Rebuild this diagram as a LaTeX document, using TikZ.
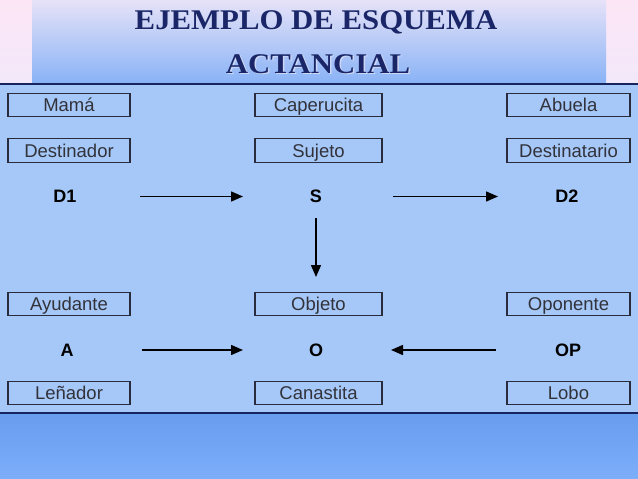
\documentclass[tikz,border=0pt]{standalone}
\usepackage{fontspec}
\setmainfont{Liberation Sans}
\newfontfamily\titlefont{Liberation Serif}
\usetikzlibrary{arrows.meta}
\definecolor{sidetop}{RGB}{252,230,246}
\definecolor{sidebot}{RGB}{242,232,250}
\definecolor{bandtop}{RGB}{230,226,248}
\definecolor{bandbot}{RGB}{136,178,246}
\definecolor{panel}{RGB}{166,200,248}
\definecolor{rule}{RGB}{22,36,96}
\definecolor{foottop}{RGB}{104,156,238}
\definecolor{footbot}{RGB}{124,174,250}
\definecolor{boxline}{RGB}{40,44,60}
\definecolor{boxtext}{RGB}{50,50,58}
\definecolor{titlecol}{RGB}{26,38,104}
\definecolor{titleshadow}{RGB}{205,215,245}
\begin{document}
\begin{tikzpicture}[x=1pt,y=-1pt,
  rolebox/.style={draw=boxline, line width=1.3pt, minimum width=123pt,
    minimum height=23.5pt, inner sep=0pt, text height=14pt, text depth=0.8pt,
    font=\fontsize{18.5}{20}\selectfont, text=boxtext},
  actant/.style={font=\fontsize{18}{20}\selectfont\bfseries, inner sep=0pt, text=black},
  link/.style={line width=1.5pt, draw=black, -{Triangle[length=12pt,width=10pt]}},
  titletext/.style={font=\titlefont\fontsize{28.5}{30}\selectfont\bfseries, inner sep=0pt, anchor=base}]
\useasboundingbox (0,0) rectangle (638,479);
% backgrounds
\shade[top color=sidetop, bottom color=sidebot] (0,0) rectangle (638,84);
\shade[top color=bandtop, bottom color=bandbot] (32,0) rectangle (606,84);
\fill[panel] (0,84) rectangle (638,413);
\shade[top color=foottop, bottom color=footbot] (0,413) rectangle (638,479);
\draw[rule, line width=1.5pt] (0,84) -- (638,84);
\draw[rule, line width=1.5pt] (0,413) -- (638,413);
% title
\node[titletext, text=titleshadow] (t1s) at (317.5,30.5) {\scalebox{1.08}[1]{EJEMPLO DE ESQUEMA}};
\node[titletext, text=titlecol] (t1) at (316,29) {\scalebox{1.08}[1]{EJEMPLO DE ESQUEMA}};
\node[titletext, text=titleshadow] (t2s) at (319.5,74.5) {\scalebox{1.08}[1]{ACTANCIAL}};
\node[titletext, text=titlecol] (t2) at (318,73) {\scalebox{1.08}[1]{ACTANCIAL}};
% boxes
\node[rolebox, minimum width=122pt] (mama) at (69,105) {Mamá};
\node[rolebox, minimum width=127pt] (caperucita) at (318.5,105) {Caperucita};
\node[rolebox] (abuela) at (568.5,105) {Abuela};
\node[rolebox, minimum width=122pt] (destinador) at (69,150.5) {Destinador};
\node[rolebox, minimum width=127pt] (sujeto) at (318.5,150.5) {Sujeto};
\node[rolebox] (destinatario) at (568.5,150.5) {Destinatario};
\node[rolebox, minimum width=122pt] (ayudante) at (69,304) {Ayudante};
\node[rolebox, minimum width=127pt] (objeto) at (318.5,304) {Objeto};
\node[rolebox] (oponente) at (568.5,304) {Oponente};
\node[rolebox, minimum width=122pt, minimum height=22.5pt] (lenador) at (69,393) {Leñador};
\node[rolebox, minimum width=127pt, minimum height=22.5pt] (canastita) at (318.5,393) {Canastita};
\node[rolebox, minimum height=22.5pt] (lobo) at (568.5,393) {Lobo};
% actants
\node[actant] (D1) at (65,196.5) {D1};
\node[actant] (S) at (316,196.5) {S};
\node[actant] (D2) at (567,196.5) {D2};
\node[actant] (A) at (67,350) {A};
\node[actant] (O) at (316,350) {O};
\node[actant] (OP) at (568,350) {OP};
% arrows
\draw[link, shorten <=75pt, shorten >=73pt] (D1.center) -- (S.center);
\draw[link, shorten <=77pt, shorten >=69pt] (S.center) -- (D2.center);
\draw[link, shorten <=21.5pt, shorten >=73pt] (S.center) -- (O.center);
\draw[link, shorten <=75pt, shorten >=73pt] (A.center) -- (O.center);
\draw[link, shorten <=72pt, shorten >=75pt] (OP.center) -- (O.center);
\end{tikzpicture}
\end{document}
